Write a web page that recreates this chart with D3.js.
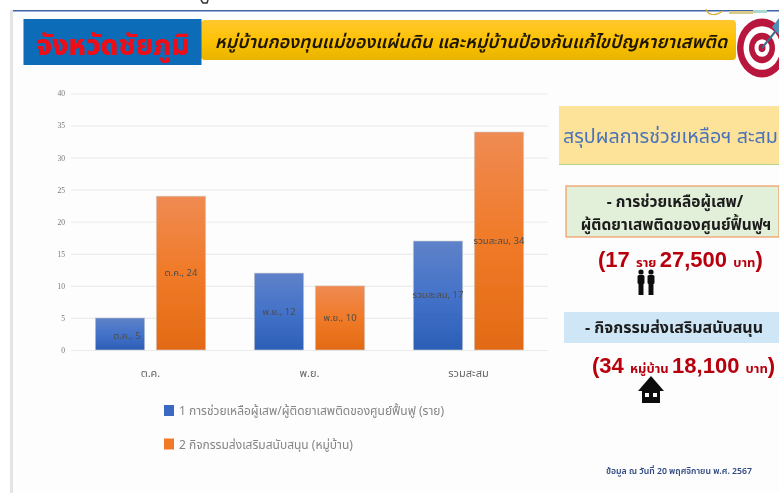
<!DOCTYPE html>
<html>
<head>
<meta charset="utf-8">
<script src="https://cdn.jsdelivr.net/npm/d3@7"></script>
<style>
html, body { margin: 0; padding: 0; background: #fff; overflow: hidden; }
text { font-family: "Noto Sans Thai", "Noto Sans", "DejaVu Sans", "Liberation Sans", sans-serif; }
</style>
</head>
<body>
<div id="chart"></div>
<script>
var categories = ["ต.ค.", "พ.ย.", "รวมสะสม"];
var seriesNames = ["1 การช่วยเหลือผู้เสพ/ผู้ติดยาเสพติดของศูนย์ฟื้นฟู (ราย)", "2 กิจกรรมส่งเสริมสนับสนุน (หมู่บ้าน)"];
var helpValues = [5, 12, 17];
var activityValues = [24, 10, 34];
var yTicks = [0, 5, 10, 15, 20, 25, 30, 35, 40];

var width = 779, height = 493;

var svg = d3.select("#chart").append("svg")
    .attr("width", width)
    .attr("height", height)
    .style("display", "block");

var defs = svg.append("defs");

function addGradient(id, top, mid, bottom){
    var g = defs.append("linearGradient").attr("id", id)
        .attr("x1", 0).attr("y1", 0).attr("x2", 0).attr("y2", 1);
    g.append("stop").attr("offset", "0%").attr("stop-color", top);
    g.append("stop").attr("offset", "50%").attr("stop-color", mid);
    g.append("stop").attr("offset", "100%").attr("stop-color", bottom);
}
addGradient("blueGrad", "#5f82c8", "#4472c9", "#2b5fb6");
addGradient("orangeGrad", "#ef8b53", "#f07a28", "#e26a14");
addGradient("yellowGrad", "#ffc72e", "#fdc205", "#e8b400");

defs.append("filter").attr("id", "soft")
    .append("feGaussianBlur").attr("stdDeviation", 0.55);

// slide frame
var frame = svg.append("g");
frame.append("rect").attr("x", 13).attr("y", 10).attr("width", 766).attr("height", 483).attr("fill", "#fdfdfd");
frame.append("rect").attr("x", 10).attr("y", 10).attr("width", 3).attr("height", 483).attr("fill", "#e4e4e4");
frame.append("rect").attr("x", 13).attr("y", 10).attr("width", 766).attr("height", 1.5).attr("fill", "#3f63a8");
frame.append("path").attr("d", "M201 0L203 3H207L208 0").attr("fill", "none").attr("stroke", "#333").attr("stroke-width", 1.5);

// bits of the decoration cut off at the top right
var deco = svg.append("g").attr("filter", "url(#soft)");
deco.append("path").attr("d", "M706 9C708 16 716 16 723 11").attr("fill", "none").attr("stroke", "#d8b040").attr("stroke-width", 1.2);
deco.append("rect").attr("x", 729).attr("y", 11).attr("width", 24).attr("height", 3).attr("fill", "#d9c98a");
deco.append("rect").attr("x", 753).attr("y", 10).attr("width", 14).attr("height", 3).attr("fill", "#a8d8d0");

// header
var header = svg.append("g").attr("filter", "url(#soft)");
header.append("rect").attr("x", 201).attr("y", 20).attr("width", 535).attr("height", 40)
    .attr("rx", 4).attr("fill", "url(#yellowGrad)");
header.append("rect").attr("x", 23.5).attr("y", 19).attr("width", 178).attr("height", 46).attr("fill", "#0b6cb8");
header.append("text").attr("x", 113).attr("y", 55).attr("text-anchor", "middle")
    .attr("font-size", 28).attr("font-weight", 800).attr("fill", "#f00a14").text("จังหวัดชัยภูมิ");
header.append("text").attr("x", 471).attr("y", 48).attr("text-anchor", "middle")
    .attr("font-size", 18).attr("font-weight", 600).attr("font-style", "italic").attr("fill", "#1c1406")
    .text("หมู่บ้านกองทุนแม่ของแผ่นดิน และหมู่บ้านป้องกันแก้ไขปัญหายาเสพติด");

// target icon
var target = svg.append("g").attr("filter", "url(#soft)");
[[1, "#b8143c"], [0.74, "#ffffff"], [0.52, "#b8143c"], [0.3, "#ffffff"], [0.14, "#b8143c"]].forEach(function(d){
    target.append("ellipse").attr("cx", 762).attr("cy", 48).attr("rx", 25 * d[0]).attr("ry", 29.5 * d[0]).attr("fill", d[1]);
});
target.append("path").attr("d", "M762 48L779 27").attr("stroke", "#3d6d8c").attr("stroke-width", 2);
target.append("path").attr("d", "M772 27L779 18V35Z").attr("fill", "#4f8fb5");

// chart
var y = d3.scaleLinear().domain([0, 40]).range([350, 93.5]);
var x0 = d3.scaleBand().domain(categories).range([71, 548]).paddingInner(0.305).paddingOuter(0.1525);
var x1 = d3.scaleBand().domain([0, 1]).range([0, x0.bandwidth()]).paddingInner(0.1885);

var chart = svg.append("g").attr("filter", "url(#soft)");

var yAxis = d3.axisLeft(y).tickValues(yTicks).tickSize(-477).tickPadding(6);
var yG = chart.append("g").attr("transform", "translate(71,0)").call(yAxis);
yG.select(".domain").remove();
yG.selectAll("line").attr("stroke", "#ececec").attr("stroke-width", 1.2);
yG.selectAll("text").attr("font-size", 7.5).attr("fill", "#777").style("font-family", "Liberation Serif");

var xAxis = d3.axisBottom(x0).tickSize(0).tickPadding(19);
var xG = chart.append("g").attr("transform", "translate(0,350)").call(xAxis);
xG.select(".domain").remove();
xG.selectAll("text").attr("font-size", 11).attr("fill", "#666");

var series = [
    { name: seriesNames[0], values: helpValues, fill: "url(#blueGrad)", labelDx: [7, 0, 0], labelDy: [2, 0, 0] },
    { name: seriesNames[1], values: activityValues, fill: "url(#orangeGrad)", labelDx: [0, 0, 0], labelDy: [0, 0, 0] }
];

series.forEach(function(s, si){
    var g = chart.append("g");
    g.selectAll("rect")
        .data(s.values)
        .enter().append("rect")
        .attr("x", function(d, i){ return x0(categories[i]) + x1(si); })
        .attr("y", function(d){ return y(d); })
        .attr("width", x1.bandwidth())
        .attr("height", function(d){ return y(0) - y(d); })
        .attr("fill", s.fill)
        .attr("stroke", "#d4d4d4")
        .attr("stroke-width", 0.6);
    g.selectAll("text")
        .data(s.values)
        .enter().append("text")
        .attr("x", function(d, i){ return x0(categories[i]) + x1(si) + x1.bandwidth()/2 + s.labelDx[i]; })
        .attr("y", function(d, i){ return (y(d) + y(0))/2 + 3 + s.labelDy[i]; })
        .attr("text-anchor", "middle")
        .attr("font-size", 9.5)
        .attr("fill", "#4d4d4d")
        .text(function(d, i){ return categories[i] + ", " + d; });
});

// legend
var legend = chart.append("g");
seriesNames.forEach(function(name, i){
    var ly = 411 + i * 33.5;
    legend.append("rect").attr("x", 164).attr("y", ly - 6).attr("width", 10).attr("height", 11)
        .attr("fill", i == 0 ? "#3a67c0" : "#f07a28");
    legend.append("text").attr("x", 179).attr("y", ly + 4).attr("font-size", 12).attr("fill", "#858585").text(name);
});

// right panel
var panel = svg.append("g").attr("filter", "url(#soft)");
panel.append("rect").attr("x", 559).attr("y", 106).attr("width", 220).attr("height", 58).attr("fill", "#fde39a");
panel.append("rect").attr("x", 559).attr("y", 164).attr("width", 220).attr("height", 1).attr("fill", "#b9d38c");
panel.append("text").attr("x", 563).attr("y", 143).attr("font-size", 19.7).attr("fill", "#4a72b8").text("สรุปผลการช่วยเหลือฯ สะสม");

panel.append("rect").attr("x", 566).attr("y", 186).attr("width", 213).attr("height", 51)
    .attr("fill", "#e2efd9").attr("stroke", "#f09a60").attr("stroke-width", 1.2);
panel.append("text").attr("x", 675).attr("y", 207).attr("text-anchor", "middle")
    .attr("font-size", 15.5).attr("font-weight", 700).attr("fill", "#1a1a1a").text("- การช่วยเหลือผู้เสพ/");
panel.append("text").attr("x", 676).attr("y", 230).attr("text-anchor", "middle")
    .attr("font-size", 15.5).attr("font-weight", 700).attr("fill", "#1a1a1a").text("ผู้ติดยาเสพติดของศูนย์ฟื้นฟูฯ");

function moneyLine(yPos, xPos, parts){
    var t = panel.append("text").attr("x", xPos).attr("y", yPos).attr("fill", "#b8000f").attr("font-weight", 700);
    parts.forEach(function(p){
        var s = t.append("tspan").attr("font-size", p[1]).text(p[0]);
        if (p[1] > 15) s.style("font-family", "Liberation Sans");
    });
}
moneyLine(266.5, 598, [["(17 ", 22], ["ราย ", 13], ["27,500 ", 22], ["บาท", 13], [")", 22]]);

// people icon
var people = panel.append("g").attr("fill", "#111");
[641, 651].forEach(function(px){
    people.append("circle").attr("cx", px).attr("cy", 272).attr("r", 2.6);
    people.append("rect").attr("x", px - 3.5).attr("y", 275).attr("width", 7).attr("height", 9).attr("rx", 1.5);
    people.append("rect").attr("x", px - 2.5).attr("y", 283).attr("width", 5).attr("height", 12);
});

panel.append("rect").attr("x", 564).attr("y", 312).attr("width", 215).attr("height", 31).attr("fill", "#cfe6f6");
panel.append("text").attr("x", 674).attr("y", 333).attr("text-anchor", "middle")
    .attr("font-size", 16).attr("font-weight", 700).attr("fill", "#1a1a1a").text("- กิจกรรมส่งเสริมสนับสนุน");

moneyLine(373, 592, [["(34 ", 22], ["หมู่บ้าน ", 13], ["18,100 ", 22], ["บาท", 13], [")", 22]]);

// house icon
var house = panel.append("g");
house.append("path").attr("d", "M651 376L638 391H664Z").attr("fill", "#111");
house.append("rect").attr("x", 642).attr("y", 390).attr("width", 18).attr("height", 13).attr("fill", "#111");
house.append("rect").attr("x", 645).attr("y", 393).attr("width", 4).attr("height", 4).attr("fill", "#fff");
house.append("rect").attr("x", 653).attr("y", 393).attr("width", 4).attr("height", 4).attr("fill", "#fff");

panel.append("text").attr("x", 606).attr("y", 474).attr("font-size", 8.7).attr("font-weight", 600)
    .attr("fill", "#2f4a80").text("ข้อมูล ณ วันที่ 20 พฤศจิกายน  พ.ศ. 2567");
</script>
</body>
</html>
